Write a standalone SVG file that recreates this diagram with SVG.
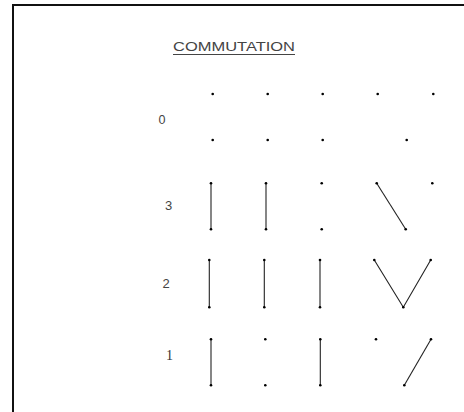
<svg xmlns="http://www.w3.org/2000/svg" width="464" height="412" viewBox="0 0 464 412">
<style>
.frame{fill:none;stroke:#111;stroke-width:2}
.dot{fill:#000}
.seg{stroke:#222;stroke-width:1.1;fill:none}
.lbl{font-family:"Liberation Sans",Arial,sans-serif;font-size:13px;fill:#444}
.lbl1{font-family:"Liberation Serif",serif;font-size:14px;fill:#333}
</style>
<rect width="464" height="412" fill="#fff"/>
<path class="frame" d="M13,412 V5 H464"/>
<g id="title">
<text class="lbl" x="173" y="51" textLength="122" lengthAdjust="spacingAndGlyphs">COMMUTATION</text>
<line x1="173" y1="54.5" x2="295" y2="54.5" stroke="#444" stroke-width="1"/>
</g>
<g id="labels">
<text class="lbl" x="158.5" y="124" textLength="7" lengthAdjust="spacingAndGlyphs">0</text>
<text class="lbl" x="165" y="210">3</text>
<text class="lbl" x="162.5" y="288">2</text>
<text class="lbl1" x="166" y="360">1</text>
</g>
<g id="connectors">
<line class="seg" x1="211" y1="183.3" x2="211" y2="229.3"/>
<line class="seg" x1="266" y1="183.3" x2="266" y2="229.3"/>
<line class="seg" x1="376.7" y1="183.3" x2="405.7" y2="229.3"/>
<line class="seg" x1="209.3" y1="260" x2="209.3" y2="307.3"/>
<line class="seg" x1="264.3" y1="260" x2="264.3" y2="307.3"/>
<line class="seg" x1="320" y1="260" x2="320" y2="307.3"/>
<polyline class="seg" points="374.3,260 403.3,307.3 430.7,260"/>
<line class="seg" x1="211" y1="339.3" x2="211" y2="385.3"/>
<line class="seg" x1="320.3" y1="339.3" x2="320.3" y2="385.3"/>
<line class="seg" x1="431" y1="339.3" x2="404.3" y2="385.3"/>
</g>
<g id="row0">
<circle class="dot" cx="212.7" cy="94" r="1.3"/>
<circle class="dot" cx="267.7" cy="94" r="1.3"/>
<circle class="dot" cx="322.7" cy="94" r="1.3"/>
<circle class="dot" cx="377.7" cy="94" r="1.3"/>
<circle class="dot" cx="433.3" cy="94" r="1.3"/>
<circle class="dot" cx="212.7" cy="140" r="1.3"/>
<circle class="dot" cx="267.7" cy="140" r="1.3"/>
<circle class="dot" cx="322.7" cy="140" r="1.3"/>
<circle class="dot" cx="406.7" cy="140" r="1.3"/>
</g>
<g id="row3">
<circle class="dot" cx="211" cy="183.3" r="1.3"/>
<circle class="dot" cx="266" cy="183.3" r="1.3"/>
<circle class="dot" cx="321.7" cy="183.3" r="1.3"/>
<circle class="dot" cx="376.7" cy="183.3" r="1.3"/>
<circle class="dot" cx="432.3" cy="183.3" r="1.3"/>
<circle class="dot" cx="211" cy="229.3" r="1.3"/>
<circle class="dot" cx="266" cy="229.3" r="1.3"/>
<circle class="dot" cx="321.7" cy="229.3" r="1.3"/>
<circle class="dot" cx="405.7" cy="229.3" r="1.3"/>
</g>
<g id="row2">
<circle class="dot" cx="209.3" cy="260" r="1.3"/>
<circle class="dot" cx="264.3" cy="260" r="1.3"/>
<circle class="dot" cx="320" cy="260" r="1.3"/>
<circle class="dot" cx="374.3" cy="260" r="1.3"/>
<circle class="dot" cx="430.7" cy="260" r="1.3"/>
<circle class="dot" cx="209.3" cy="307.3" r="1.3"/>
<circle class="dot" cx="264.3" cy="307.3" r="1.3"/>
<circle class="dot" cx="320" cy="307.3" r="1.3"/>
<circle class="dot" cx="403.3" cy="307.3" r="1.3"/>
</g>
<g id="row1">
<circle class="dot" cx="211" cy="339.3" r="1.3"/>
<circle class="dot" cx="265.3" cy="339.3" r="1.3"/>
<circle class="dot" cx="320.3" cy="339.3" r="1.3"/>
<circle class="dot" cx="376" cy="339.3" r="1.3"/>
<circle class="dot" cx="431" cy="339.3" r="1.3"/>
<circle class="dot" cx="211" cy="385.3" r="1.3"/>
<circle class="dot" cx="265.3" cy="385.3" r="1.3"/>
<circle class="dot" cx="320.3" cy="385.3" r="1.3"/>
<circle class="dot" cx="404.3" cy="385.3" r="1.3"/>
</g>
</svg>
